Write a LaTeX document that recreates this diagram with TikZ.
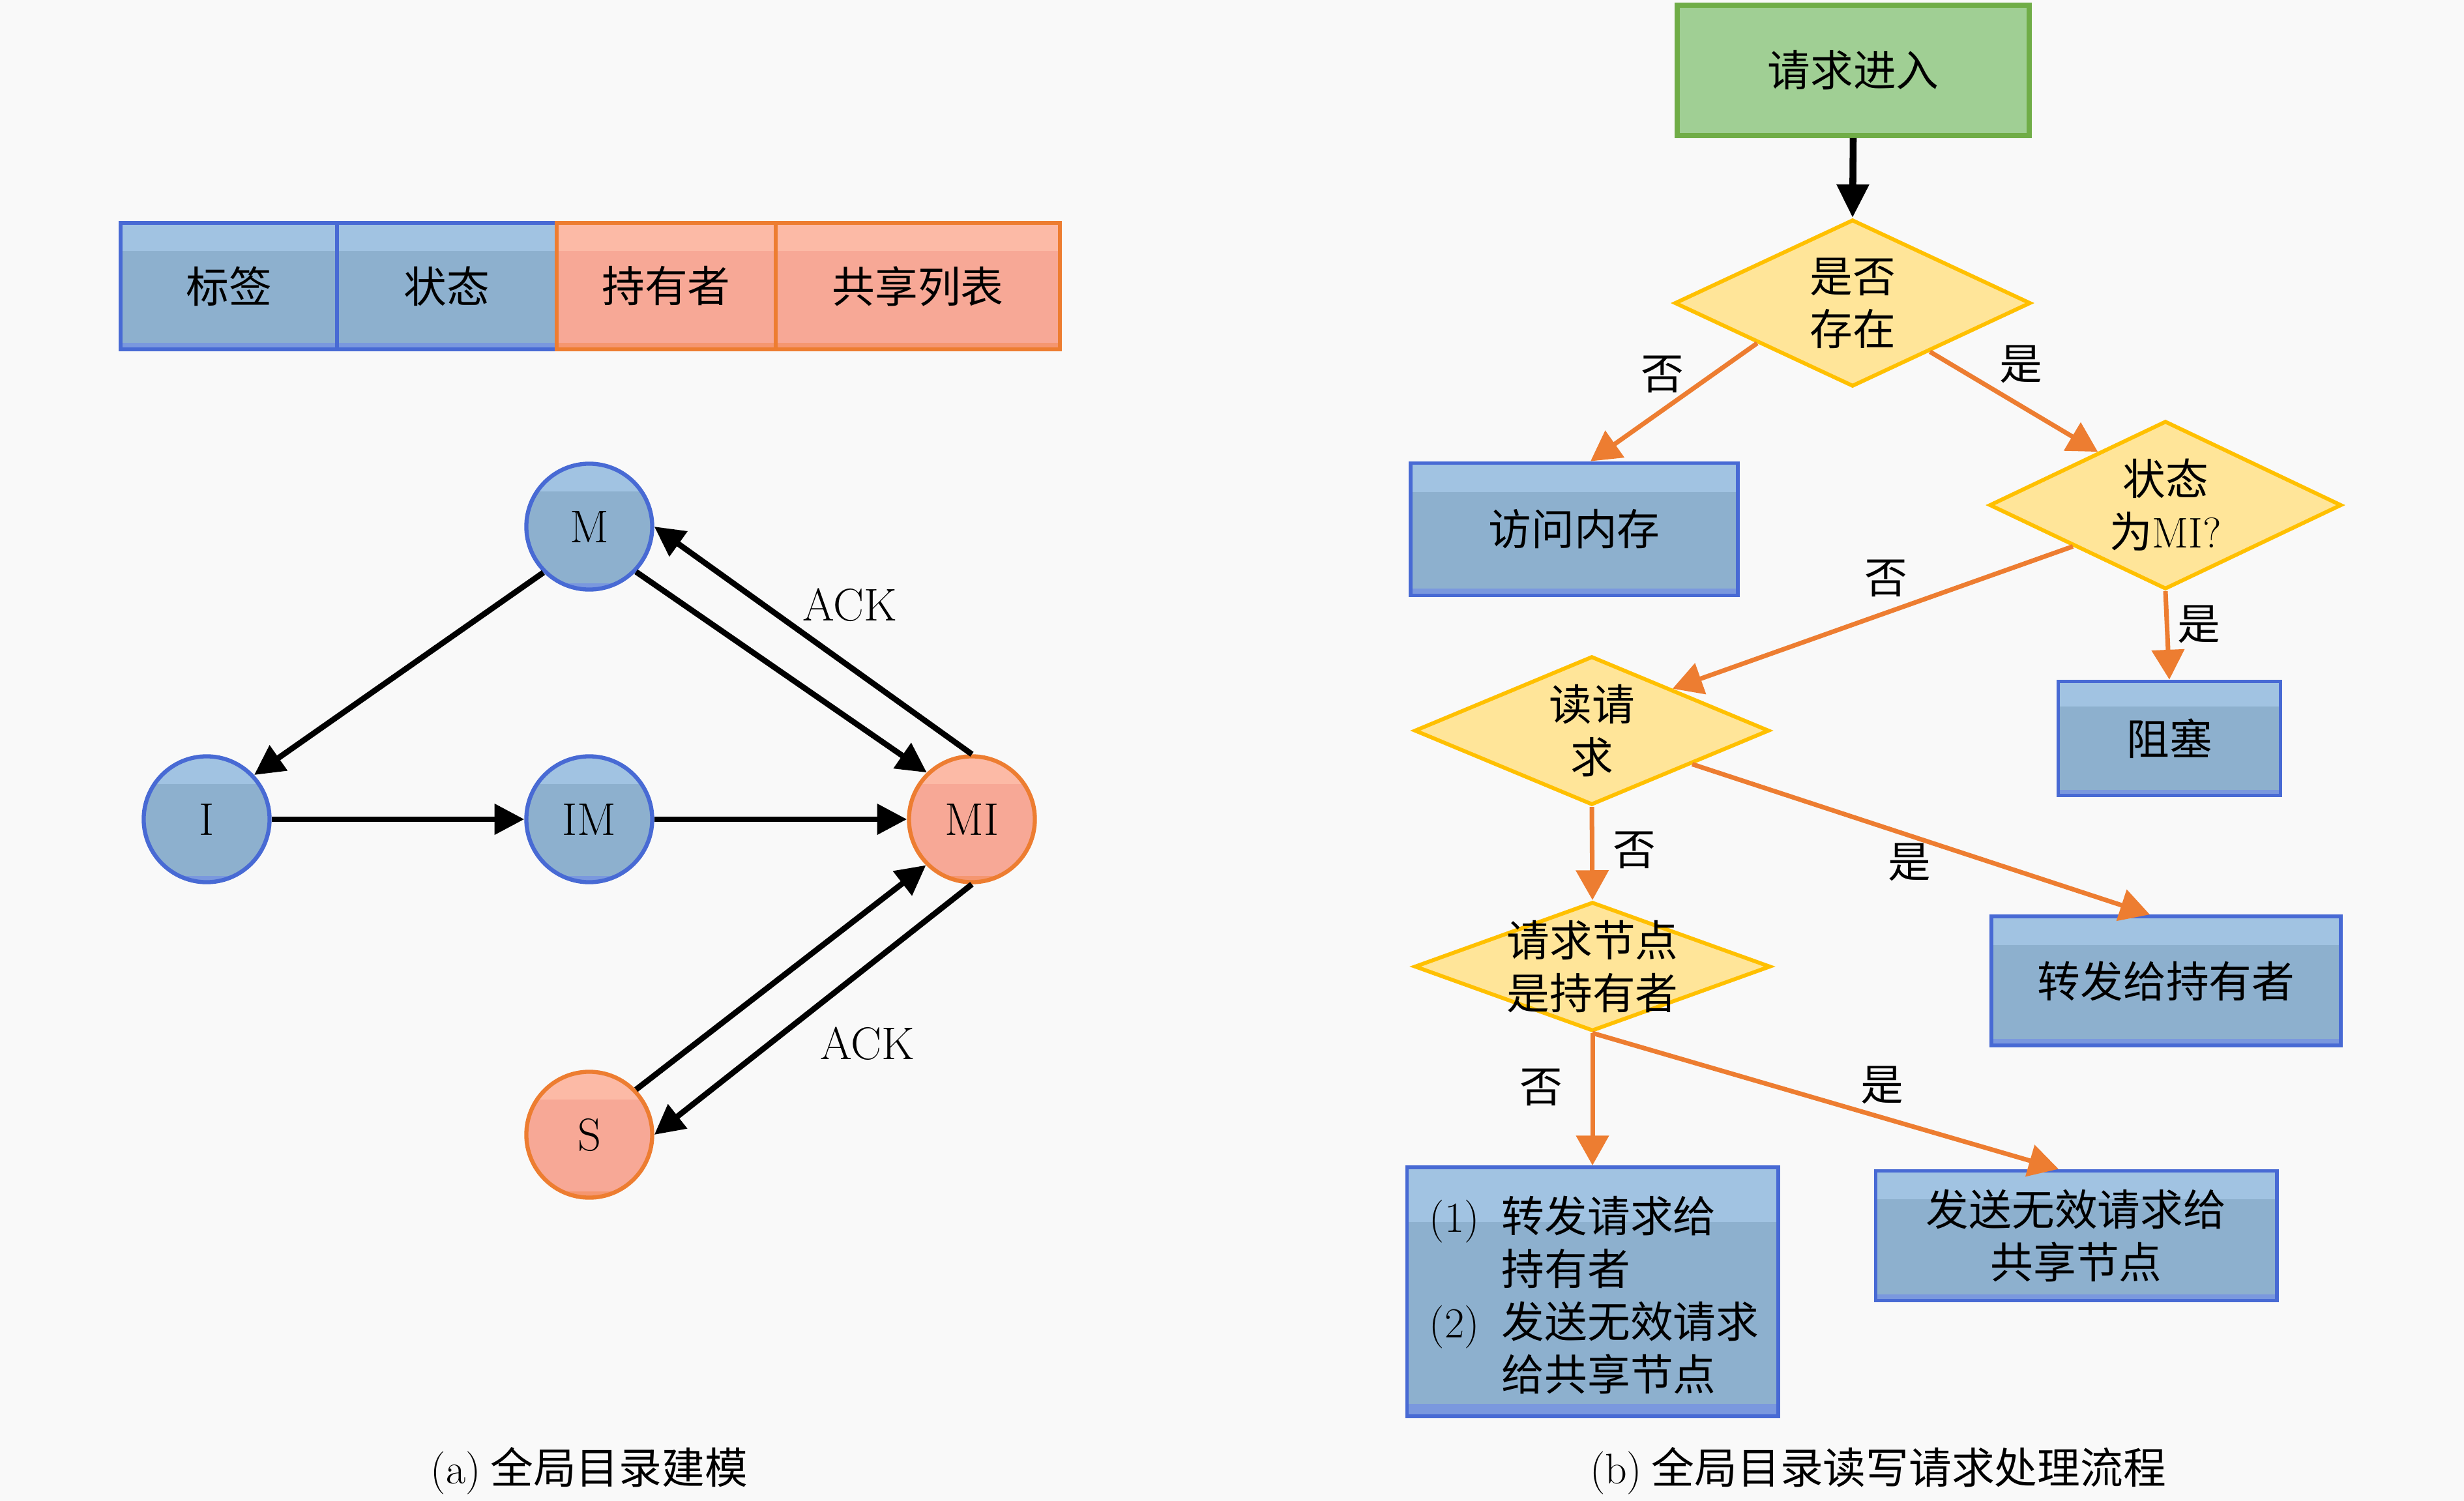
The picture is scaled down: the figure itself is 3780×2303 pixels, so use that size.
\documentclass[tikz,border=0pt]{standalone}
\usepackage{fontspec}
\newfontfamily\cjk{Noto Sans CJK SC}
\usetikzlibrary{arrows.meta,shapes.geometric,calc}
\definecolor{bfill}{RGB}{141,176,206}
\definecolor{btop}{RGB}{161,195,226}
\definecolor{bbot}{RGB}{122,152,222}
\definecolor{bline}{RGB}{72,106,212}
\definecolor{ofill}{RGB}{247,168,150}
\definecolor{otop}{RGB}{252,186,166}
\definecolor{obot}{RGB}{245,150,112}
\definecolor{oline}{RGB}{237,125,49}
\definecolor{gfill}{RGB}{160,207,148}
\definecolor{gline}{RGB}{112,173,71}
\definecolor{yfill}{RGB}{255,229,153}
\definecolor{yline}{RGB}{255,192,0}
\definecolor{bgc}{RGB}{249,249,249}
\newcommand\zhfont{\fontsize{18.7pt}{23pt}\selectfont\cjk}
\newcommand\lmfont{\fontsize{20pt}{24pt}\selectfont\rmfamily}
\tikzset{
  banded/.style n args={3}{fill=#1, path picture={
     \fill[#2] (path picture bounding box.north west) rectangle ($(path picture bounding box.north east)!0.22!(path picture bounding box.south east)$);
     \fill[#3] ($(path picture bounding box.south west)!0.05!(path picture bounding box.north west)$) rectangle (path picture bounding box.south east);
  }},
  bluecell/.style={draw=bline, line width=1.6pt, banded={bfill}{btop}{bbot}, inner sep=0pt, font=\zhfont, text=black},
  orangecell/.style={draw=oline, line width=1.6pt, banded={ofill}{otop}{obot}, inner sep=0pt, font=\zhfont, text=black},
  bluecirc/.style={circle, draw=bline, line width=1.8pt, banded={bfill}{btop}{bbot}, inner sep=0pt, minimum size=1.93cm, font=\lmfont},
  orangecirc/.style={circle, draw=oline, line width=1.8pt, banded={ofill}{otop}{obot}, inner sep=0pt, minimum size=1.93cm, font=\lmfont},
  greenbox/.style={draw=gline, line width=2.2pt, fill=gfill, inner sep=0pt, font=\zhfont},
  dia/.style={diamond, draw=yline, line width=1.7pt, fill=yfill, inner sep=0pt},
  zh/.style={font=\zhfont, align=center, inner sep=0pt},
  lm/.style={font=\lmfont, inner sep=0pt},
  blk/.style={-{Triangle[length=13pt,width=13pt]}, line width=2.5pt, draw=black},
  blkbig/.style={-{Triangle[length=14.5pt,width=13.5pt]}, line width=3pt, draw=black},
  org/.style={-{Triangle[length=13pt,width=14pt]}, line width=2pt, draw=oline},
}
\begin{document}
\begin{tikzpicture}[x=0.01cm,y=-0.01cm]
\fill[bgc] (0,0) rectangle (3780,2303);
\useasboundingbox (0,0) rectangle (3780,2303);

% ---------- (a) ----------
\node[bluecell, minimum width=3.32cm, minimum height=1.94cm] (tag) at (351,439) {标签};
\node[bluecell, minimum width=3.37cm, minimum height=1.94cm] (state) at (685.5,439) {状态};
\node[orangecell, minimum width=3.36cm, minimum height=1.94cm] (owner) at (1022,439) {持有者};
\node[orangecell, minimum width=4.36cm, minimum height=1.94cm] (share) at (1408,439) {共享列表};

\node[bluecirc] (M) at (904,808) {M};
\node[bluecirc] (I) at (317,1257) {I};
\node[bluecirc] (IM) at (904,1257) {IM};
\node[orangecirc] (MI) at (1491,1257) {MI};
\node[orangecirc] (S) at (904,1741) {S};

\draw[blk] (M.225) -- (I.43);
\draw[blk] (M.-44) -- (MI.134);
\draw[blk] (MI.90) -- (M.0);
\draw[blk] (I.east) -- (IM.west);
\draw[blk] (IM.east) -- (MI.west);
\draw[blk] (S.44) -- (MI.225);
\draw[blk] (MI.-90) -- (S.0);
\node[lm] (ack1) at (1304,928) {ACK};
\node[lm] (ack2) at (1331,1601) {ACK};

\node[zh] (capa) at (904,2257) {{\rmfamily(a)} 全局目录建模};

% ---------- (b) ----------
\node[greenbox, minimum width=5.40cm, minimum height=2.00cm] (start) at (2843,108) {请求进入};
\node[dia, minimum width=5.46cm, minimum height=2.56cm] (d1) at (2842,465) {};
\node[zh] (d1t) at (d1) {是否\\存在};
\node[bluecell, minimum width=5.02cm, minimum height=2.03cm] (b1) at (2415,812) {访问内存};
\node[dia, minimum width=5.40cm, minimum height=2.58cm] (d2) at (3322,775) {};
\node[zh] (d2t) at (d2) {状态\\为{\rmfamily MI?}};
\node[bluecell, minimum width=3.41cm, minimum height=1.75cm] (b2) at (3328,1133) {阻塞};
\node[dia, minimum width=5.44cm, minimum height=2.28cm] (d3) at (2442,1121) {};
\node[zh] (d3t) at (d3) {读请\\求};
\node[bluecell, minimum width=5.36cm, minimum height=1.98cm] (b3) at (3323,1505) {转发给持有者};
\node[dia, minimum width=5.46cm, minimum height=1.98cm] (d4) at (2443,1483) {};
\node[zh] (d4t) at (d4) {请求节点\\是持有者};
\node[bluecell, minimum width=5.69cm, minimum height=3.82cm] (b4) at (2443,1982) {};
\node[zh, align=left, anchor=west] (b4t) at (2192,1987) {\makebox[1.11cm][l]{\rmfamily(1)}转发请求给\\\hspace*{1.11cm}持有者\\\makebox[1.11cm][l]{\rmfamily(2)}发送无效请求\\\hspace*{1.11cm}给共享节点};
\node[bluecell, minimum width=6.15cm, minimum height=1.99cm, align=center] (b5) at (3185,1896) {发送无效请求给\\共享节点};

\draw[blkbig] (start.south) -- (d1.north);
\draw[org] ($(d1.west)!0.47!(d1.south)$) -- ($(b1.north)+(25,0)$);
\draw[org] ($(d1.east)!0.57!(d1.south)$) -- ($(d2.west)!0.62!(d2.north)$);
\draw[org] ($(d2.west)!0.48!(d2.south)$) -- ($(d3.north)!0.45!(d3.east)$);
\draw[org] (d2.south) -- (b2.north);
\draw[org] (d3.south) -- (d4.north);
\draw[org] ($(d3.east)!0.44!(d3.south)$) -- ($(b3.north)+(-25,0)$);
\draw[org] (d4.south) -- (b4.north);
\draw[org] (d4.south) -- ($(b5.north)+(-27,0)$);

\node[zh] (n1) at (2550,574) {否};
\node[zh] (y1) at (3100,559) {是};
\node[zh] (n2) at (2893,887) {否};
\node[zh] (y2) at (3373,958) {是};
\node[zh] (n3) at (2507,1304) {否};
\node[zh] (y3) at (2929,1323) {是};
\node[zh] (n4) at (2364,1668) {否};
\node[zh] (y4) at (2887,1665) {是};

\node[zh] (capb) at (2881,2257) {{\rmfamily(b)} 全局目录读写请求处理流程};
\end{tikzpicture}
\end{document}
